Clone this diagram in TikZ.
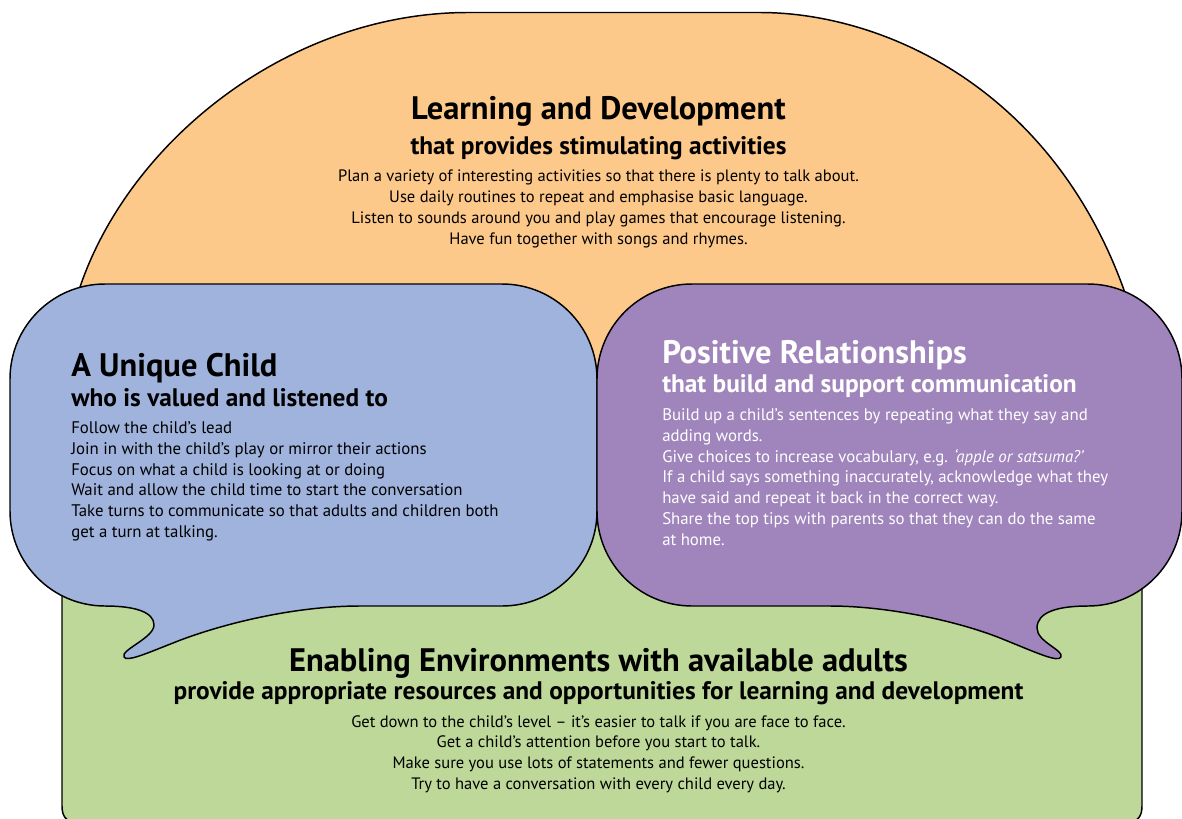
\documentclass[tikz,border=0pt]{standalone}
\usepackage{fontspec}
\setmainfont{PT Sans}
\definecolor{orangefill}{HTML}{FDC98A}
\definecolor{bluefill}{HTML}{9FB3DD}
\definecolor{purplefill}{HTML}{A085BC}
\definecolor{greenfill}{HTML}{BDD898}
\tikzset{
  x=0.75pt,y=-0.75pt,
  panel/.style={draw=black,line width=1.1pt,line join=round},
  bodytext/.style={align=left,anchor=north west,inner sep=0pt,font=\fontsize{12.6}{15.7}\selectfont},
  centertext/.style={align=center,inner sep=0pt,font=\fontsize{12.4}{15.7}\selectfont},
  bighead/.style={inner sep=0pt,font=\fontsize{24.4}{28}\selectfont\bfseries},
  subhead/.style={inner sep=0pt,font=\fontsize{19}{22}\selectfont\bfseries},
}
\begin{document}
\begin{tikzpicture}
\useasboundingbox (0,0) rectangle (1182,818);
\clip (0,0) rectangle (1182,818);
\path[panel,fill=orangefill] (62,500) -- (80,287) .. controls (130,140) and (290,12.5) .. (468,12.5) -- (760,12.5) .. controls (880,12.5) and (1050,85) .. (1124,290) -- (1142,500) -- cycle;
\path[panel,fill=greenfill] (62,500) -- (62,806) .. controls (62,816) and (66,822) .. (76,822) -- (1128,822) .. controls (1138,822) and (1142,816) .. (1142,806) -- (1142,500) -- cycle;
\path[panel,fill=bluefill] (105,284) -- (502,284) .. controls (554.5,284) and (597,326.5) .. (597,379) -- (597,511) .. controls (597,563.5) and (554.5,606) .. (502,606) -- (360,606) .. controls (290,606) and (215,626) .. (173,643) .. controls (145,654) and (127,662) .. (124,657) .. controls (120,650) and (154,638) .. (154,625) .. controls (154,612) and (135,606) .. (105,606) .. controls (52.5,606) and (10,563.5) .. (10,511) -- (10,379) .. controls (10,326.5) and (52.5,284) .. (105,284) -- cycle;
\path[panel,fill=purplefill] (692,284) -- (1088,284) .. controls (1140,284) and (1182,326.5) .. (1182,379) -- (1182,511) .. controls (1182,563.5) and (1140,606) .. (1088,606) .. controls (1058,606) and (1037,612) .. (1037,628) .. controls (1037,642) and (1064,650) .. (1061,657) .. controls (1058,663) and (1035,652) .. (1000,638) .. controls (960,622) and (890,606) .. (830,606) -- (692,606) .. controls (639.5,606) and (597,563.5) .. (597,511) -- (597,379) .. controls (597,326.5) and (639.5,284) .. (692,284) -- cycle;
\node[bighead] (ldh) at (598.5,111) {Learning and Development};
\node[subhead] (lds) at (598.5,148) {that provides stimulating activities};
\node[centertext,anchor=north] (ldb) at (598.5,170) {Plan a variety of interesting activities so that there is plenty to talk about.\\Use daily routines to repeat and emphasise basic language.\\Listen to sounds around you and play games that encourage listening.\\Have fun together with songs and rhymes.};
\node[bighead,anchor=west] (uch) at (71,368) {A Unique Child};
\node[subhead,anchor=west] (ucs) at (71,398) {who is valued and listened to};
\node[bodytext] (ucb) at (71,421) {Follow the child’s lead\\Join in with the child’s play or mirror their actions\\Focus on what a child is looking at or doing\\Wait and allow the child time to start the conversation\\Take turns to communicate so that adults and children both\\get a turn at talking.};
\node[bighead,anchor=west,text=white] (prh) at (662,355) {Positive Relationships};
\node[subhead,anchor=west,text=white] (prs) at (662,386) {that build and support communication};
\node[bodytext,text=white] (prb) at (662,408) {Build up a child’s sentences by repeating what they say and\\adding words.\\Give choices to increase vocabulary, e.g. \textit{‘apple or satsuma?’}\\If a child says something inaccurately, acknowledge what they\\have said and repeat it back in the correct way.\\Share the top tips with parents so that they can do the same\\at home.};
\node[bighead] (eeh) at (598.5,663) {Enabling Environments with available adults};
\node[subhead] (ees) at (598.5,693) {provide appropriate resources and opportunities for learning and development};
\node[centertext,anchor=north] (eeb) at (598.5,715) {Get down to the child’s level – it’s easier to talk if you are face to face.\\Get a child’s attention before you start to talk.\\Make sure you use lots of statements and fewer questions.\\Try to have a conversation with every child every day.};
\end{tikzpicture}
\end{document}
